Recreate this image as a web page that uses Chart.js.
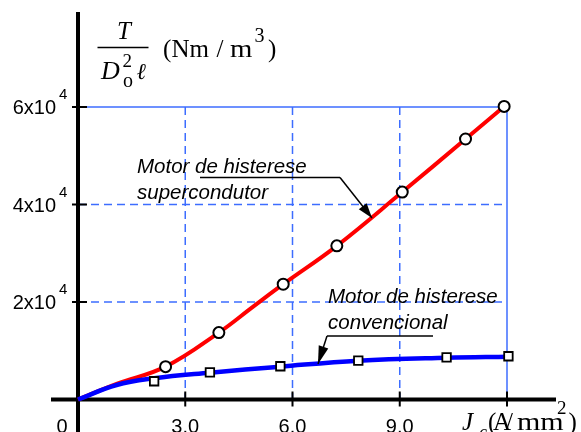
<!DOCTYPE html>
<html><head><meta charset="utf-8">
<script src="https://cdn.jsdelivr.net/npm/chart.js@4"></script>
<style>html,body{margin:0;padding:0;background:#fff;overflow:hidden}canvas{display:block}</style>
</head><body>
<canvas id="c" width="581" height="432"></canvas>
<script>
// ---- data ----
const xTickValues = [0, 3, 6, 9, 12];
const xTickLabels = ['0', '3.0', '6.0', '9.0', ''];
const yTickValues = [20000, 40000, 60000];
const yTickMantissa = ['2', '4', '6'];
const yTickExponent = '4';

// superconducting hysteresis motor (red)
const supLineX = [0, 1.08, 2.45, 3.94, 4.9, 5.74, 7.24, 9.07, 10.84, 11.92];
const supLineY = [0, 3200, 6740, 13720, 19050, 23650, 31520, 42550, 53430, 60120];
const supMarkX = [2.45, 3.94, 5.74, 7.24, 9.07, 10.84, 11.92];
const supMarkY = [6740, 13720, 23650, 31520, 42550, 53430, 60120];

// conventional hysteresis motor (blue)
const convLineX = [0, 1.08, 2.13, 3.69, 5.66, 7.84, 10.31, 12.04];
const convLineY = [0, 2980, 4350, 5500, 6740, 7970, 8580, 8790];
const convMarkX = [2.13, 3.69, 5.66, 7.84, 10.31, 12.04];
const convMarkY = [3740, 5580, 6820, 7970, 8660, 8870];

const pts = (xs, ys) => xs.map((v, i) => ({x: v, y: ys[i]}));

const SANS = '"Liberation Sans", Arial, "DejaVu Sans", sans-serif';
const SERIF = '"Liberation Serif", "Times New Roman", "DejaVu Serif", serif';
const GRID = '#3d6dff';

function seg(ctx, x1, y1, x2, y2) { ctx.beginPath(); ctx.moveTo(x1, y1); ctx.lineTo(x2, y2); ctx.stroke(); }
function arrow(ctx, x1, y1, x2, y2, len, half) {
  seg(ctx, x1, y1, x2, y2);
  const a = Math.atan2(y2 - y1, x2 - x1);
  const bx = x2 - len * Math.cos(a), by = y2 - len * Math.sin(a);
  ctx.beginPath();
  ctx.moveTo(x2, y2);
  ctx.lineTo(bx + half * Math.sin(a), by - half * Math.cos(a));
  ctx.lineTo(bx - half * Math.sin(a), by + half * Math.cos(a));
  ctx.closePath(); ctx.fill();
}
function txt(ctx, s, x, y, font, align) {
  ctx.font = font; ctx.textAlign = align || 'left'; ctx.fillText(s, x, y);
}
function txtScaled(ctx, s, x, y, font, sx) {
  ctx.save(); ctx.translate(x, y); ctx.scale(sx, 1);
  ctx.font = font; ctx.textAlign = 'left'; ctx.fillText(s, 0, 0);
  ctx.restore();
}

const deco = {
  id: 'deco',
  beforeDatasetsDraw(chart) {
    const {ctx, scales: {x, y}} = chart;
    const x0 = x.getPixelForValue(0), xMax = x.getPixelForValue(12);
    const y0 = y.getPixelForValue(0), yMax = y.getPixelForValue(60000);
    ctx.save();
    ctx.strokeStyle = GRID; ctx.lineWidth = 1.5;
    ctx.setLineDash([8, 5]);
    xTickValues.slice(1, 4).forEach(v => { const p = x.getPixelForValue(v); seg(ctx, p, yMax, p, y0); });
    yTickValues.slice(0, 2).forEach(v => { const p = y.getPixelForValue(v); seg(ctx, x0, p, xMax, p); });
    ctx.setLineDash([]);
    seg(ctx, x0, yMax, xMax, yMax);
    seg(ctx, xMax, yMax, xMax, y0);
    // axes
    ctx.strokeStyle = '#000'; ctx.lineWidth = 4;
    seg(ctx, x0, 12, x0, 432);
    seg(ctx, 51, y0, 556, y0);
    ctx.lineWidth = 2;
    xTickValues.slice(1).forEach(v => { const p = x.getPixelForValue(v); seg(ctx, p, y0 - 8, p, y0 + 7); });
    yTickValues.forEach(v => { const p = y.getPixelForValue(v); seg(ctx, x0 - 6, p, x0 + 9, p); });
    ctx.restore();
  },
  afterDatasetsDraw(chart) {
    const {ctx, scales: {x, y}} = chart;
    ctx.save();
    ctx.fillStyle = '#000'; ctx.strokeStyle = '#000';
    ctx.textBaseline = 'alphabetic';
    // x tick labels
    xTickValues.forEach((v, i) => {
      if (!xTickLabels[i]) return;
      const p = x.getPixelForValue(v) + (v === 0 ? -16 : 0);
      txt(ctx, xTickLabels[i], p, 433, '20px ' + SANS, 'center');
    });
    // y tick labels
    yTickValues.forEach((v, i) => {
      const p = y.getPixelForValue(v);
      txt(ctx, yTickMantissa[i] + 'x10', 56, p + 7, '20px ' + SANS, 'right');
      txt(ctx, yTickExponent, 59, p - 8, '15px ' + SANS, 'left');
    });
    // y axis title: T / (D_o^2 l) (Nm / m^3)
    txt(ctx, 'T', 124, 38.5, 'italic 25px ' + SERIF, 'center');
    ctx.lineWidth = 1.5; seg(ctx, 97.5, 47.5, 148.5, 47.5);
    txt(ctx, 'D', 101, 78.5, 'italic 26px ' + SERIF);
    txt(ctx, '2', 122.5, 67, '19px ' + SERIF);
    txt(ctx, 'o', 123, 87, '20px ' + SERIF);
    txt(ctx, '\u2113', 136.5, 78.5, 'italic 23px ' + SERIF);
    const tf = '25px ' + SERIF;
    txt(ctx, '(', 163, 56.5, tf);
    txt(ctx, 'Nm', 171.5, 56.5, tf);
    txt(ctx, '/', 216.5, 56.5, tf);
    txtScaled(ctx, 'm', 230, 56.5, tf, 1.15);
    txt(ctx, '3', 254.5, 42, '20px ' + SERIF);
    txt(ctx, ')', 268, 56.5, tf);
    // x axis title: J_c (A/mm^2)
    txt(ctx, 'J', 462, 430, 'italic 25px ' + SERIF);
    txt(ctx, 'c', 479, 438, 'italic 18px ' + SERIF);
    txt(ctx, '(', 488, 430, tf);
    txt(ctx, 'A', 493, 430, tf);
    txt(ctx, '/', 506, 430, tf);
    txtScaled(ctx, 'mm', 517, 430, tf, 1.2);
    txt(ctx, '2', 557, 413.5, '19px ' + SERIF);
    txt(ctx, ')', 568.5, 430, tf);
    // annotations
    const af = 'italic 20.5px ' + SANS;
    txt(ctx, 'Motor de histerese', 137, 173, af);
    txt(ctx, 'supercondutor', 137, 199, af);
    txt(ctx, 'Motor de histerese', 328, 303, af);
    txt(ctx, 'convencional', 328, 329, af);
    ctx.lineWidth = 1.5;
    seg(ctx, 200, 177.5, 340, 177.5);
    arrow(ctx, 340, 177.5, 372, 218, 15, 5);
    seg(ctx, 327, 336, 433, 336);
    arrow(ctx, 327, 336, 318, 364, 18, 5);
    ctx.restore();
  }
};

new Chart(document.getElementById('c'), {
  type: 'scatter',
  data: {
    datasets: [
      {data: pts(supLineX, supLineY), showLine: true, borderColor: '#ff0000', borderWidth: 4,
       tension: 0.4, pointRadius: 0, clip: false, order: 4},
      {data: pts(convLineX, convLineY), showLine: true, borderColor: '#0000ff', borderWidth: 4.5,
       tension: 0.4, pointRadius: 0, clip: false, order: 3},
      {data: pts(supMarkX, supMarkY), showLine: false, pointStyle: 'circle', pointRadius: 5.5,
       backgroundColor: '#fff', borderColor: '#000', borderWidth: 2, clip: false, order: 2},
      {data: pts(convMarkX, convMarkY), showLine: false, pointStyle: 'rect', pointRadius: 6,
       backgroundColor: '#fff', borderColor: '#000', borderWidth: 1.8, clip: false, order: 1}
    ]
  },
  options: {
    responsive: false, animation: false, devicePixelRatio: 1,
    layout: {padding: {left: 78, right: 74, top: 107, bottom: 32.5}},
    scales: {
      x: {type: 'linear', min: 0, max: 12, display: false},
      y: {type: 'linear', min: 0, max: 60000, display: false}
    },
    plugins: {legend: {display: false}, tooltip: {enabled: false}}
  },
  plugins: [deco]
});
</script>
</body></html>
